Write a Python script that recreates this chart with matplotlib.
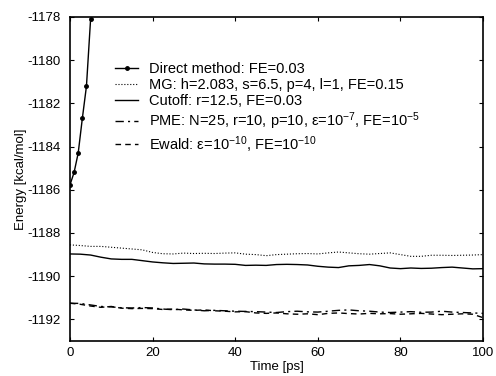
import numpy as np
import matplotlib
matplotlib.use("Agg")
import matplotlib.pyplot as plt

plt.rcParams['font.family'] = ['Liberation Sans', 'DejaVu Sans']
plt.rcParams['mathtext.fontset'] = 'custom'
plt.rcParams['mathtext.rm'] = 'Liberation Sans'
plt.rcParams['mathtext.it'] = 'Liberation Sans'
plt.rcParams['mathtext.default'] = 'regular'
plt.rcParams['axes.unicode_minus'] = False

# direct method (blows up quickly)
t_direct = [0, 1, 2, 3, 4, 5]
e_direct = [-1185.78, -1185.2, -1184.3, -1182.7, -1181.2, -1178.1]

# other methods, sampled every 2.5 ps
t = np.arange(0, 100.1, 2.5)
e_mg = [-1188.55, -1188.58, -1188.62, -1188.62, -1188.66, -1188.70, -1188.74, -1188.78,
        -1188.90, -1188.96, -1188.97, -1188.93, -1188.95, -1188.94, -1188.95, -1188.93,
        -1188.92, -1188.98, -1189.00, -1189.05, -1189.00, -1188.98, -1188.96, -1188.95,
        -1188.97, -1188.92, -1188.88, -1188.92, -1188.96, -1188.98, -1188.95, -1188.92,
        -1189.00, -1189.08, -1189.08, -1189.03, -1189.03, -1189.04, -1189.03, -1189.02,
        -1189.00]
e_cut = [-1188.97, -1188.98, -1189.02, -1189.12, -1189.20, -1189.22, -1189.22, -1189.28,
         -1189.34, -1189.38, -1189.41, -1189.40, -1189.39, -1189.43, -1189.44, -1189.44,
         -1189.45, -1189.50, -1189.49, -1189.50, -1189.46, -1189.45, -1189.46, -1189.48,
         -1189.54, -1189.58, -1189.60, -1189.52, -1189.50, -1189.46, -1189.52, -1189.62,
         -1189.65, -1189.62, -1189.64, -1189.63, -1189.60, -1189.58, -1189.62, -1189.66,
         -1189.65]
e_pme = [-1191.25, -1191.26, -1191.33, -1191.40, -1191.42, -1191.46, -1191.47, -1191.45,
         -1191.47, -1191.52, -1191.55, -1191.52, -1191.56, -1191.60, -1191.58, -1191.60,
         -1191.62, -1191.63, -1191.64, -1191.66, -1191.68, -1191.64, -1191.62, -1191.65,
         -1191.66, -1191.62, -1191.58, -1191.56, -1191.60, -1191.62, -1191.66, -1191.68,
         -1191.66, -1191.64, -1191.67, -1191.66, -1191.62, -1191.66, -1191.68, -1191.70,
         -1191.72]
e_ewald = [-1191.25, -1191.30, -1191.38, -1191.44, -1191.40, -1191.48, -1191.50, -1191.49,
           -1191.50, -1191.54, -1191.52, -1191.56, -1191.58, -1191.56, -1191.60, -1191.62,
           -1191.65, -1191.64, -1191.70, -1191.72, -1191.70, -1191.74, -1191.76, -1191.74,
           -1191.78, -1191.72, -1191.70, -1191.73, -1191.75, -1191.72, -1191.74, -1191.73,
           -1191.76, -1191.74, -1191.72, -1191.75, -1191.78, -1191.76, -1191.74, -1191.76,
           -1191.92]

labels = ["Direct method: FE=0.03",
          "MG: h=2.083, s=6.5, p=4, l=1, FE=0.15",
          "Cutoff: r=12.5, FE=0.03",
          "PME: N=25, r=10, p=10, \u03b5=10$^{-7}$, FE=10$^{-5}$",
          "Ewald: \u03b5=10$^{-10}$, FE=10$^{-10}$"]

fig = plt.figure(figsize=(4.96, 3.76), dpi=100)
ax = fig.add_axes([0.141, 0.093, 0.833, 0.862])

ax.plot(t_direct, e_direct, 'k-', marker='.', markersize=5, lw=1.0, label=labels[0])
ax.plot(t, e_mg, color='k', ls=':', lw=0.8, label=labels[1])
ax.plot(t, e_cut, 'k-', lw=1.0, label=labels[2])
ax.plot(t, e_pme, color='k', ls=(0, (6, 3, 1.5, 3)), lw=1.0, label=labels[3])
ax.plot(t, e_ewald, color='k', ls=(0, (4, 3)), lw=1.0, label=labels[4])

ax.set_xlim(0, 100)
ax.set_ylim(-1193, -1178)
ax.set_xticks([0, 20, 40, 60, 80, 100])
ax.set_yticks(np.arange(-1192, -1177, 2))
ax.tick_params(direction='in', top=True, right=True, labelsize=9.5, length=3)
ax.tick_params(axis='y', pad=7)
ax.tick_params(axis='x', pad=4)
for s in ax.spines.values():
    s.set_linewidth(1.2)

ax.set_xlabel("Time [ps]", fontsize=9.5, labelpad=1.5)
ax.set_ylabel("Energy [kcal/mol]", fontsize=9.5, labelpad=0)

ax.legend(loc='upper left', bbox_to_anchor=(0.109, 0.862), frameon=False, fontsize=10.5,
          handlelength=1.6, handletextpad=0.7, borderaxespad=0, borderpad=0,
          labelspacing=0.15)

fig.savefig("out.png", dpi=100)
